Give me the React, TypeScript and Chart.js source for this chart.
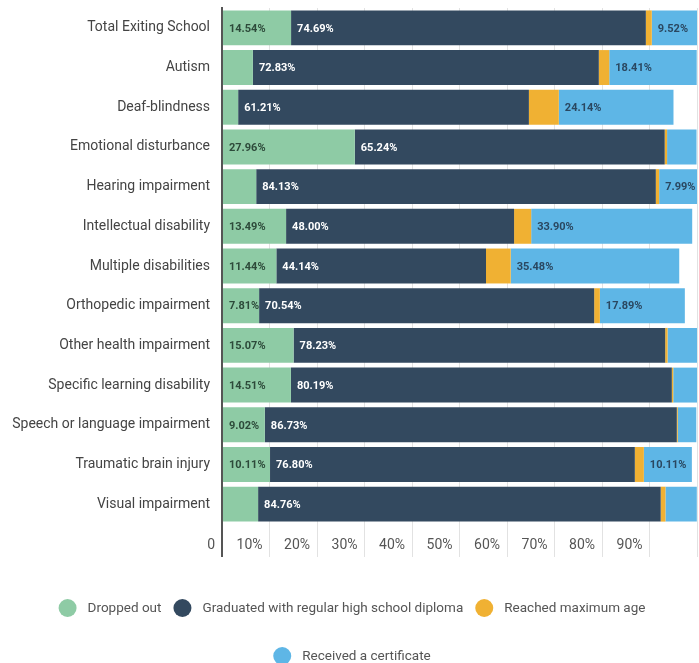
import React, { useEffect, useRef } from 'react';
import { Chart, registerables } from 'chart.js';

Chart.register(...registerables);

const categories = [
  'Total Exiting School',
  'Autism',
  'Deaf-blindness',
  'Emotional disturbance',
  'Hearing impairment',
  'Intellectual disability',
  'Multiple disabilities',
  'Orthopedic impairment',
  'Other health impairment',
  'Specific learning disability',
  'Speech or language impairment',
  'Traumatic brain injury',
  'Visual impairment',
];

const seriesNames = [
  'Dropped out',
  'Graduated with regular high school diploma',
  'Reached maximum age',
  'Received a certificate',
];

const droppedOut = [14.54, 6.5, 3.4, 27.96, 7.2, 13.49, 11.44, 7.81, 15.07, 14.51, 9.02, 10.11, 7.6];
const graduated = [74.69, 72.83, 61.21, 65.24, 84.13, 48.0, 44.14, 70.54, 78.23, 80.19, 86.73, 76.8, 84.76];
const reachedMaxAge = [1.25, 2.2, 6.3, 0.5, 0.7, 3.6, 5.2, 1.2, 0.5, 0.3, 0.2, 1.9, 1.0];
const certificate = [9.52, 18.41, 24.14, 6.2, 7.99, 33.9, 35.48, 17.89, 6.2, 5.0, 3.9, 10.11, 6.6];

const xTickValues = [0, 10, 20, 30, 40, 50, 60, 70, 80, 90, 100];

const seriesColors = ['#8ecba5', '#33495f', '#f0b133', '#5eb6e6'];
const labelColors = ['#2d4a3a', '#ffffff', '#2a4760', '#2a4760'];
const LABEL_MIN = 7.7;

const FONT = 'Roboto, "Open Sans", sans-serif';

const valueLabelPlugin = {
  id: 'valueLabels',
  afterDatasetsDraw(chart: any) {
    const ctx = chart.ctx;
    ctx.save();
    ctx.font = `bold 11px ${FONT}`;
    ctx.textBaseline = 'middle';
    ctx.textAlign = 'left';
    chart.data.datasets.forEach((ds: any, di: number) => {
      const meta = chart.getDatasetMeta(di);
      meta.data.forEach((el: any, i: number) => {
        const v = ds.data[i];
        if (v > LABEL_MIN) {
          const left = Math.min(el.x, el.base);
          ctx.fillStyle = labelColors[di];
          ctx.fillText(v.toFixed(2) + '%', left + 6, el.y + 1);
        }
      });
    });
    ctx.restore();
  },
};

const customLegendPlugin = {
  id: 'customLegend',
  afterDraw(chart: any) {
    const ctx = chart.ctx;
    const r = 9;
    const gapText = 11;
    const gapItem = 12;
    const rowYs = [608, 656];
    const centerX = 352;
    const maxW = chart.width - 40;
    ctx.save();
    ctx.font = `13.5px ${FONT}`;
    ctx.textBaseline = 'middle';
    ctx.textAlign = 'left';
    const items = chart.data.datasets.map((ds: any, i: number) => {
      const tw = ctx.measureText(ds.label).width;
      return { text: ds.label, color: seriesColors[i], w: 2 * r + gapText + tw };
    });
    const rows: any[][] = [[]];
    let cur = 0;
    items.forEach((it: any) => {
      const add = (rows[rows.length - 1].length ? gapItem : 0) + it.w;
      if (rows[rows.length - 1].length && cur + add > maxW) {
        rows.push([it]);
        cur = it.w;
      } else {
        rows[rows.length - 1].push(it);
        cur += add;
      }
    });
    rows.forEach((row, ri) => {
      const total = row.reduce((s: number, it: any, k: number) => s + it.w + (k ? gapItem : 0), 0);
      let x = centerX - total / 2;
      const y = rowYs[ri] ?? rowYs[0] + ri * 48;
      row.forEach((it: any) => {
        ctx.beginPath();
        ctx.arc(x + r, y, r, 0, Math.PI * 2);
        ctx.fillStyle = it.color;
        ctx.fill();
        ctx.fillStyle = '#555555';
        ctx.fillText(it.text, x + 2 * r + gapText, y + 1);
        x += it.w + gapItem;
      });
    });
    ctx.restore();
  },
};

export default function App() {
  const canvasRef = useRef<HTMLCanvasElement | null>(null);

  useEffect(() => {
    document.body.style.margin = '0';
    const canvas = canvasRef.current;
    if (!canvas) return;
    Chart.defaults.font.family = FONT;
    const seriesData = [droppedOut, graduated, reachedMaxAge, certificate];
    const chart = new Chart(canvas, {
      type: 'bar',
      data: {
        labels: categories,
        datasets: seriesNames.map((name, i) => ({
          label: name,
          data: seriesData[i],
          backgroundColor: seriesColors[i],
          borderWidth: 0,
          barPercentage: 0.88,
          categoryPercentage: 1,
        })),
      },
      options: {
        indexAxis: 'y',
        animation: false,
        responsive: true,
        maintainAspectRatio: false,
        layout: { padding: { top: 8, right: 2, bottom: 100, left: 0 } },
        plugins: {
          legend: { display: false },
          tooltip: { enabled: false },
        },
        scales: {
          x: {
            type: 'linear',
            stacked: true,
            min: 0,
            max: 100,
            afterBuildTicks: (scale: any) => {
              scale.ticks = xTickValues.map((v) => ({ value: v }));
            },
            afterFit: (scale: any) => {
              scale.height = 39;
              scale.paddingLeft = 0;
              scale.paddingRight = 0;
              scale.paddingTop = 0;
              scale.paddingBottom = 0;
            },
            border: { display: false },
            grid: {
              color: (c: any) => (c.tick && c.tick.value === 0 ? '#555555' : '#e2e2e2'),
              lineWidth: (c: any) => (c.tick && c.tick.value === 0 ? 2 : 1),
              drawTicks: true,
              tickLength: 33,
            },
            ticks: {
              align: 'end',
              labelOffset: -7,
              padding: -20,
              maxRotation: 0,
              autoSkip: false,
              color: '#555555',
              font: { size: 14 },
              callback: (v: any) => (v === 0 ? '0' : v === 100 ? '' : v + '%'),
            },
          },
          y: {
            stacked: true,
            afterFit: (scale: any) => {
              scale.width = 222;
              scale.paddingTop = 0;
              scale.paddingBottom = 0;
              scale.paddingLeft = 0;
              scale.paddingRight = 0;
            },
            grid: { display: false },
            border: { display: true, color: '#555555', width: 2 },
            ticks: {
              color: '#444444',
              padding: 4,
              font: { size: 14 },
              autoSkip: false,
            },
          },
        },
      } as any,
      plugins: [valueLabelPlugin, customLegendPlugin],
    });
    return () => chart.destroy();
  }, []);

  return (
    <div style={{ position: 'relative', width: 699, height: 663 }}>
      <canvas ref={canvasRef} />
    </div>
  );
}
